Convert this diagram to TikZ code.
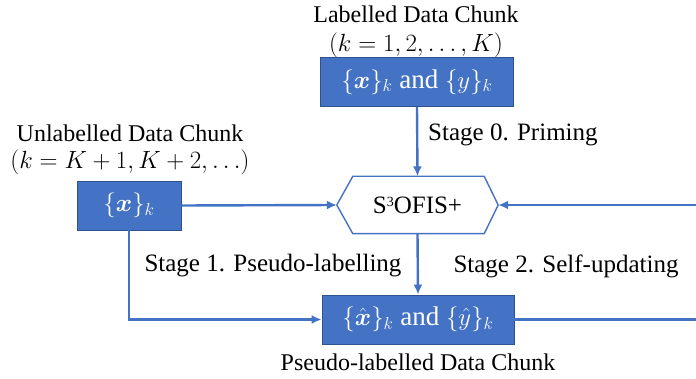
\documentclass[tikz,border=0pt]{standalone}
\usepackage{amsmath}
\usepackage{fontspec}
\setmainfont{Liberation Serif}
\usetikzlibrary{arrows.meta}
\definecolor{boxblue}{HTML}{4472C4}
\definecolor{boxedge}{HTML}{2F528F}
\begin{document}
\begin{tikzpicture}[x=1pt,y=-1pt,
  chunk/.style={draw=boxedge,line width=0.8pt,fill=boxblue,text=white,
    minimum height=49pt,inner sep=0pt,font=\fontsize{27}{30}\selectfont},
  lbl/.style={font=\fontsize{24}{28}\selectfont,inner sep=0pt},
  stage/.style={font=\fontsize{25}{29}\selectfont,inner sep=0pt},
  flow/.style={draw=boxblue,line width=2.4pt,-{Latex[length=10pt,width=9pt]}}]
\useasboundingbox (0,0) rectangle (696,379);

% data chunks
\node[chunk,minimum width=193pt] (lab) at (417,82) {$\{\boldsymbol{x}\}_k$ and $\{y\}_k$};
\node[chunk,minimum width=104pt] (unl) at (129,205.5) {$\{\boldsymbol{x}\}_k$};
\node[chunk,minimum width=192pt] (pse) at (418,319.5) {$\{\hat{\boldsymbol{x}}\}_k$ and $\{\hat{y}\}_k$};

% the learning model (hexagon drawn around a rectangular node)
\node[minimum width=161pt,minimum height=57pt,inner sep=0pt] (hex) at (417.5,205) {};
\draw[boxblue,line width=1.4pt,fill=white]
  (hex.west) -- ([xshift=16pt]hex.north west) -- ([xshift=-14pt]hex.north east)
  -- (hex.east) -- ([xshift=-14pt]hex.south east) -- ([xshift=16pt]hex.south west) -- cycle;
\node[font=\fontsize{25}{29}\selectfont,inner sep=0pt] (hexlbl) at (hex.center)
  {S{\fontsize{14}{16}\selectfont\raisebox{7pt}{3}}OFIS+};

% titles
\node[lbl] (labt1) at (416,14) {Labelled Data Chunk};
\node[lbl] (labt2) at (416,45) {$(k=1,2,\ldots,K)$};
\node[lbl] (unlt1) at (130,133) {Unlabelled Data Chunk};
\node[lbl] (unlt2) at (130,162) {$(k=K+1,K+2,\ldots)$};
\node[lbl] (pset) at (418,362) {Pseudo-labelled Data Chunk};

% stage labels
\node[stage,anchor=west] (s0) at (428,135) {Stage 0. Priming};
\node[stage] (s1) at (273,266) {Stage 1. Pseudo-labelling};
\node[stage] (s2) at (566,266) {Stage 2. Self-updating};

% connectors
\coordinate (lc) at (unl.south |- pse.west);
\coordinate (rc1) at (704,0 |- pse.east);
\coordinate (rc2) at (704,0 |- hex.east);
\draw[flow] (lab.south) -- (hex.north);
\draw[flow] (unl.east) -- (hex.west);
\draw[flow] (hex.south) -- (pse.north);
\draw[flow] (unl.south) -- (lc) -- (pse.west);
\draw[flow] (pse.east) -- (rc1) -- (rc2) -- (hex.east);
\end{tikzpicture}
\end{document}
